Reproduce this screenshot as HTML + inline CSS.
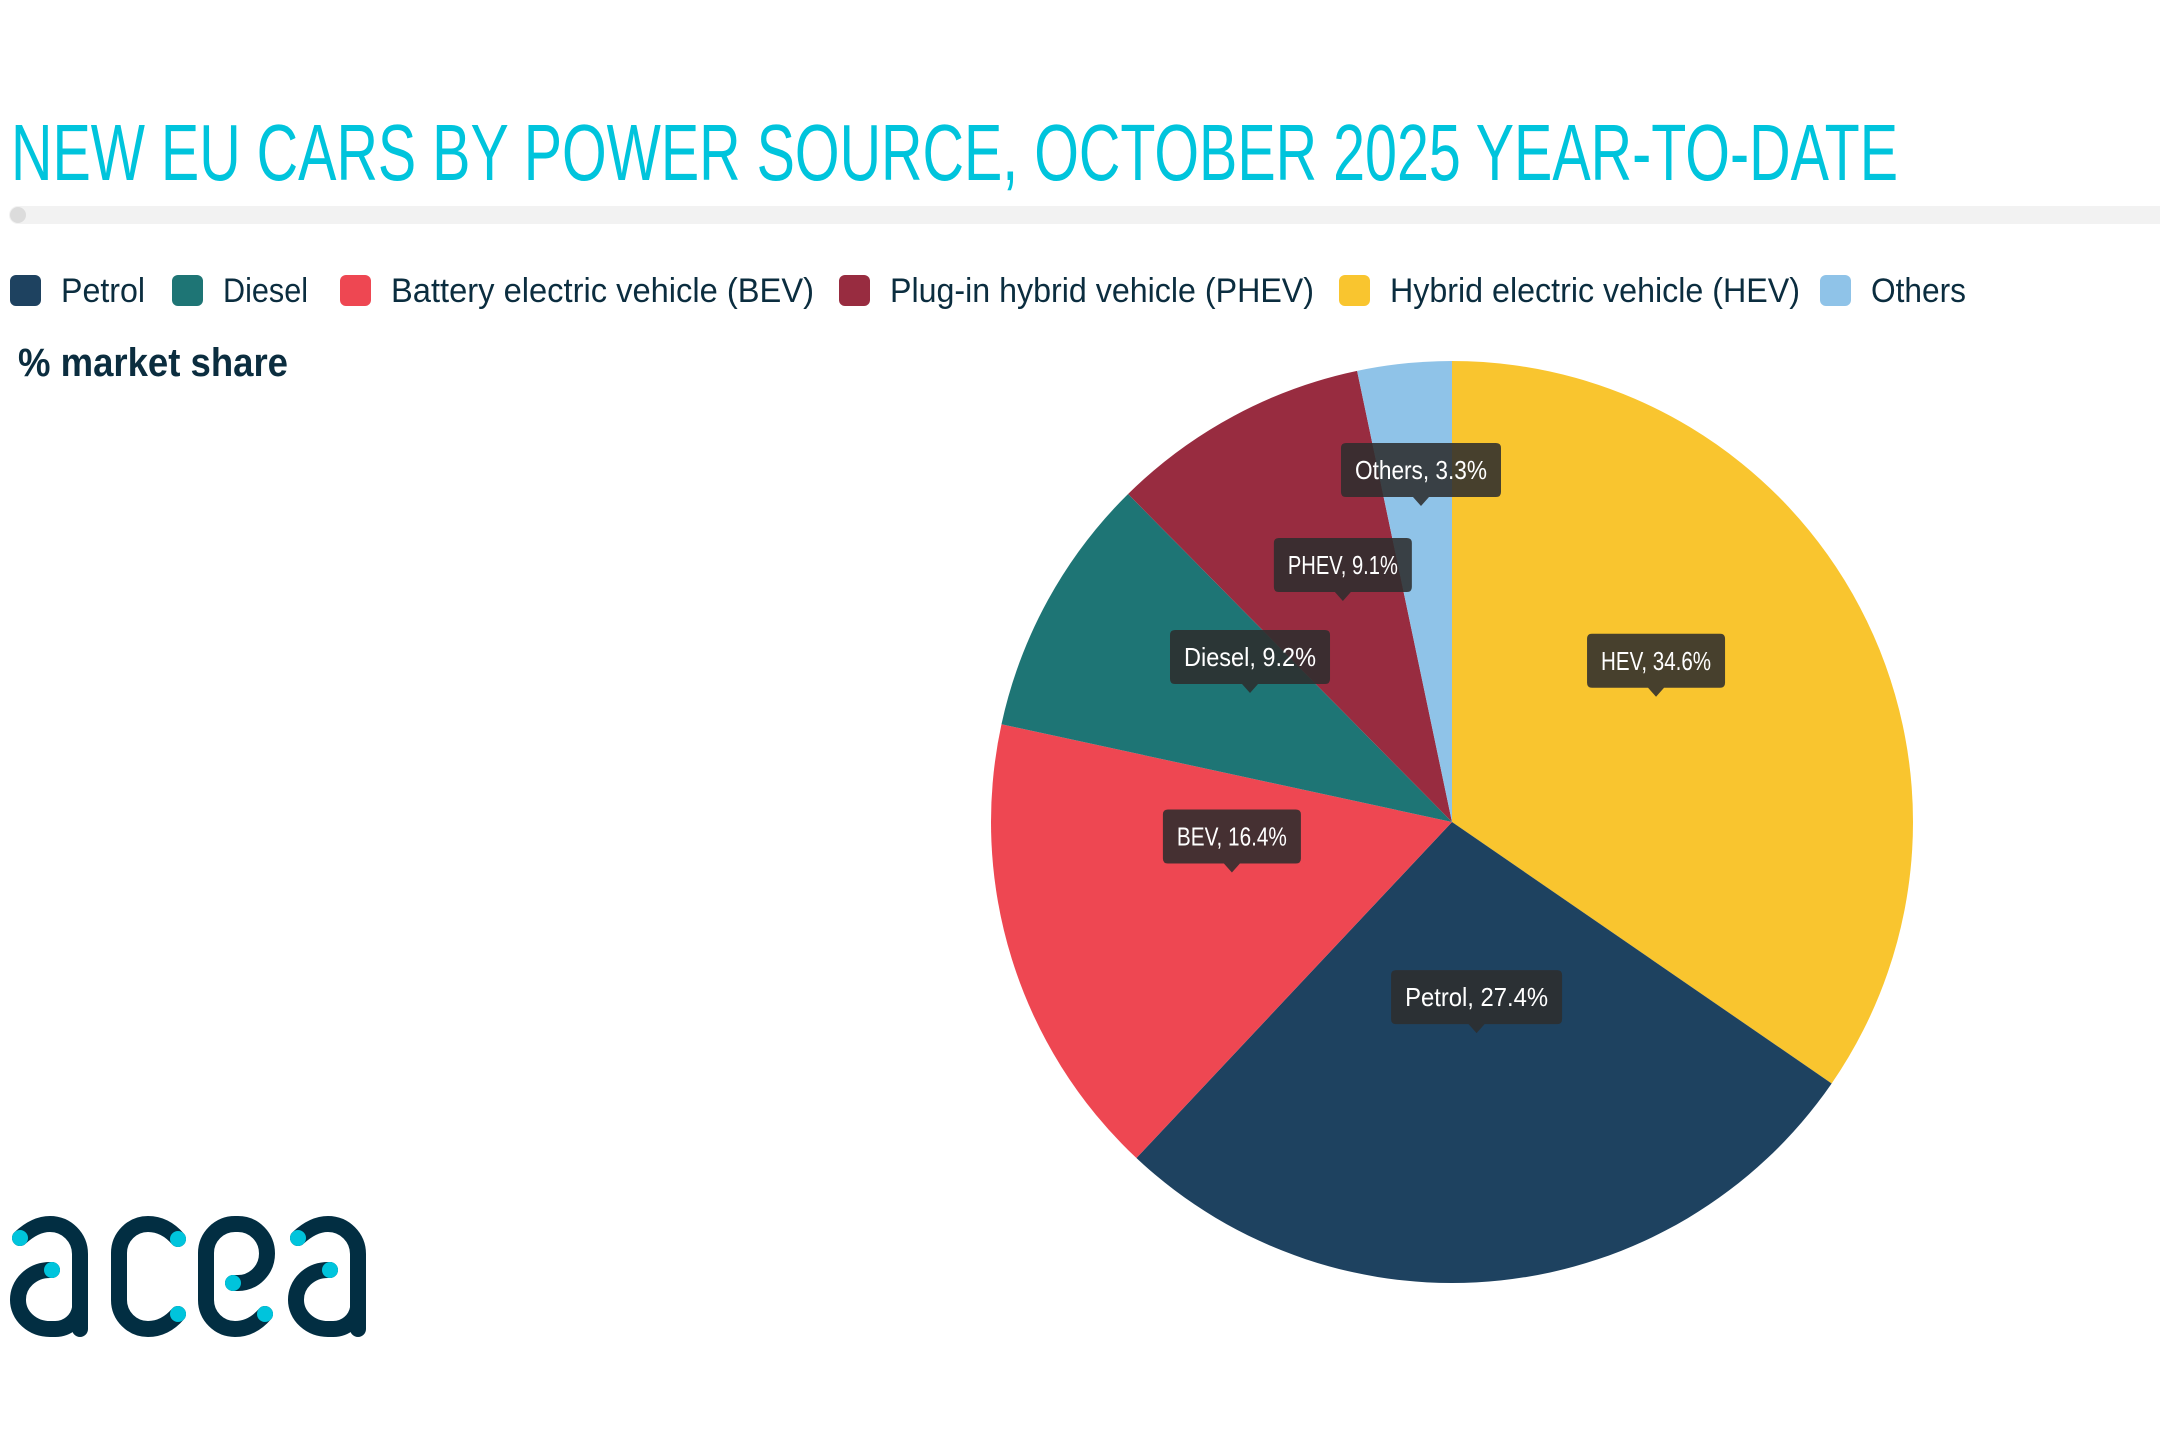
<!DOCTYPE html>
<html><head><meta charset="utf-8">
<style>
html,body{margin:0;padding:0;background:#fff;}
svg{display:block;font-family:"Liberation Sans",sans-serif;}
</style></head>
<body>
<svg id="chart" width="2160" height="1440" viewBox="0 0 2160 1440" xmlns="http://www.w3.org/2000/svg">
  <text x="11" y="180" font-size="80" fill="#00c4dc" textLength="1887" lengthAdjust="spacingAndGlyphs">NEW EU CARS BY POWER SOURCE, OCTOBER 2025 YEAR-TO-DATE</text>
  <rect x="9" y="206" width="2200" height="18" rx="9" fill="#f2f2f2"/>
  <circle cx="18" cy="215" r="8" fill="#dcdcdc"/>
  <g id="legend"></g>
  <text x="18" y="376" font-size="40" font-weight="bold" fill="#0b2d3f" textLength="270" lengthAdjust="spacingAndGlyphs">% market share</text>
  <g id="pie"></g>
  <g id="labels"></g>
  <g fill="none" stroke="#022e42" stroke-width="16" stroke-linecap="round">
    <g>
      <path d="M20,1238 Q35,1224 50,1224 A30,30 0 0 1 80,1254 L80,1329"/>
      <path d="M52,1270 L50,1270 A32,29.5 0 0 0 18,1300 A32,29 0 0 0 50,1329 L55,1329 A25,25 0 0 0 80,1308"/>
      <circle cx="20" cy="1238" r="8" fill="#00c4dc" stroke="none"/>
      <circle cx="52" cy="1270" r="8" fill="#00c4dc" stroke="none"/>
    </g>
    <g>
      <path d="M178,1239 Q165,1224 148,1224 A29,29 0 0 0 119,1253 L119,1300 A29,29 0 0 0 148,1329 Q165,1329 178,1314"/>
      <circle cx="178" cy="1239" r="8" fill="#00c4dc" stroke="none"/>
      <circle cx="178" cy="1314" r="8" fill="#00c4dc" stroke="none"/>
    </g>
    <g>
      <path d="M233,1283 L238,1283 A29,29.5 0 0 0 267,1253.5 A29,29.5 0 0 0 238,1224 L235,1224 A29,29 0 0 0 206,1253 L206,1300 A29,29 0 0 0 235,1329 Q252,1329 265,1314"/>
      <circle cx="233" cy="1283" r="8" fill="#00c4dc" stroke="none"/>
      <circle cx="265" cy="1314" r="8" fill="#00c4dc" stroke="none"/>
    </g>
    <g transform="translate(278,0)">
      <path d="M20,1238 Q35,1224 50,1224 A30,30 0 0 1 80,1254 L80,1329"/>
      <path d="M52,1270 L50,1270 A32,29.5 0 0 0 18,1300 A32,29 0 0 0 50,1329 L55,1329 A25,25 0 0 0 80,1308"/>
      <circle cx="20" cy="1238" r="8" fill="#00c4dc" stroke="none"/>
      <circle cx="52" cy="1270" r="8" fill="#00c4dc" stroke="none"/>
    </g>
  </g>
</svg>
<script>
const legendNames = ["Petrol","Diesel","Battery electric vehicle (BEV)","Plug-in hybrid vehicle (PHEV)","Hybrid electric vehicle (HEV)","Others"];
const sliceNames = ["HEV","Petrol","BEV","Diesel","PHEV","Others"];
const sliceValues = [34.6,27.4,16.4,9.2,9.1,3.3];
const sliceColors = ["#f9c52f","#1e4260","#ee4752","#1e7575","#982c40","#8fc3e8"];
const legendColors = ["#1e4260","#1e7575","#ee4752","#982c40","#f9c52f","#8fc3e8"];

const NS = "http://www.w3.org/2000/svg";
const cx = 1452, cy = 822, R = 461;

// legend
const lg = document.getElementById('legend');
const legendX = [10,172,340,839,1339,1820];
const legendW = [84,85,423,424,410,95];
legendNames.forEach((n,i)=>{
  const g = document.createElementNS(NS,'g');
  
  
  const r = document.createElementNS(NS,'rect');
  r.setAttribute('x',legendX[i]); r.setAttribute('y',275); r.setAttribute('width',31); r.setAttribute('height',31);
  r.setAttribute('rx',6); r.setAttribute('fill',legendColors[i]);
  
  
  const t = document.createElementNS(NS,'text');
  t.setAttribute('x',legendX[i]+51); t.setAttribute('y',302); t.setAttribute('font-size',34);
  t.setAttribute('fill','#0b2d3f'); t.setAttribute('textLength',legendW[i]); t.setAttribute('lengthAdjust','spacingAndGlyphs');
  
  
  t.textContent = n;
  g.appendChild(r); g.appendChild(t); lg.appendChild(g);
});

// pie
const total = sliceValues.reduce((a,b)=>a+b,0);
function pt(angle, rad){ return [cx + rad*Math.sin(angle), cy - rad*Math.cos(angle)]; }
const pie = document.getElementById('pie');
const labels = document.getElementById('labels');
let acc = 0;
sliceValues.forEach((v,i)=>{
  const a0 = acc/total*2*Math.PI, a1 = (acc+v)/total*2*Math.PI;
  acc += v;
  const p0 = pt(a0,R), p1 = pt(a1,R);
  const large = (a1-a0) > Math.PI ? 1 : 0;
  const path = document.createElementNS(NS,'path');
  path.setAttribute('d',`M${cx},${cy} L${p0[0]},${p0[1]} A${R},${R} 0 ${large} 1 ${p1[0]},${p1[1]} Z`);
  path.setAttribute('fill',sliceColors[i]);
  
  
  pie.appendChild(path);

  // label
  const mid = (a0+a1)/2;
  const frac = v < 5 ? 0.65 : 0.5;
  const tip = pt(mid, R*frac);
  tip[1] -= 18;
  const g = document.createElementNS(NS,'g');
  
  
  const txt = sliceNames[i] + ', ' + v.toFixed(1) + '%';
  const tw = txt.length * 11;
  const bw = tw + 28, bh = 54;
  const bx = tip[0] - bw/2, by = tip[1] - 9 - bh;
  const box = document.createElementNS(NS,'path');
  box.setAttribute('d',`M${bx+5},${by} H${bx+bw-5} Q${bx+bw},${by} ${bx+bw},${by+5} V${by+bh-5} Q${bx+bw},${by+bh} ${bx+bw-5},${by+bh} H${tip[0]+8} L${tip[0]},${tip[1]} L${tip[0]-8},${by+bh} H${bx+5} Q${bx},${by+bh} ${bx},${by+bh-5} V${by+5} Q${bx},${by} ${bx+5},${by} Z`);
  box.setAttribute('fill','rgba(45,45,45,0.88)');
  
  
  const t = document.createElementNS(NS,'text');
  t.setAttribute('x',tip[0]); t.setAttribute('y',by+36); t.setAttribute('font-size',26);
  t.setAttribute('fill','#ffffff'); t.setAttribute('text-anchor','middle');
  t.setAttribute('textLength',tw); t.setAttribute('lengthAdjust','spacingAndGlyphs');
  
  
  t.textContent = txt;
  g.appendChild(box); g.appendChild(t); labels.appendChild(g);
});
</script>
</body></html>
